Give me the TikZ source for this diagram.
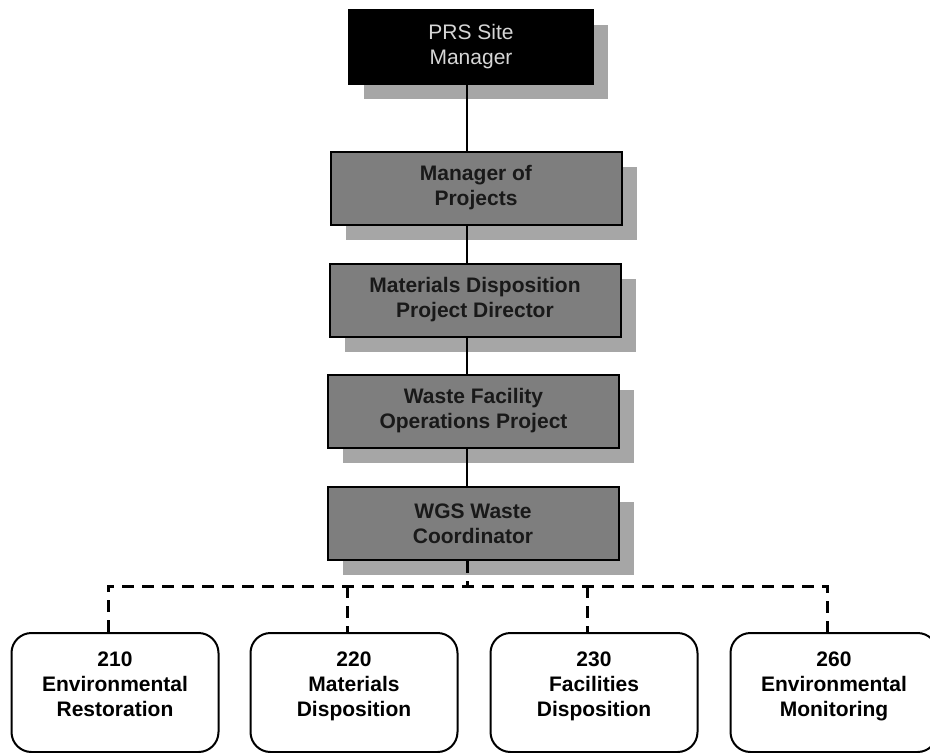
\documentclass[tikz,border=0pt]{standalone}
\usepackage{fontspec}
\setmainfont{Liberation Sans}
\usepackage{xcolor}
\usepackage{tikz}
\usetikzlibrary{positioning,shadows}
\definecolor{boxgray}{HTML}{7E7E7E}
\definecolor{shade}{HTML}{A6A6A6}
\definecolor{toptext}{HTML}{D6D6D6}

\begin{document}
\begin{tikzpicture}[x=1pt, y=-1pt,
  office/.style={draw=black, line width=2pt, fill=boxgray, minimum width=291pt, minimum height=73pt, inner sep=0pt, align=center,
    font=\fontsize{21}{25}\selectfont\bfseries, text=black!90,
    drop shadow={shadow xshift=15pt, shadow yshift=-15pt, fill=shade, opacity=1}},
  unit/.style={draw=black, line width=2pt, rounded corners=20pt, fill=white, minimum width=207pt, minimum height=119pt, inner sep=0pt, align=center,
    text depth=16pt, font=\fontsize{21}{25}\selectfont\bfseries},
  spineline/.style={line width=2.2pt},
  busline/.style={line width=3pt, dash pattern=on 12pt off 8pt}]
\useasboundingbox (0,0) rectangle (930,753);
\node[office, fill=black, text=toptext, font=\fontsize{21}{25}\selectfont, minimum width=244pt, minimum height=74pt] (site) at (471,47) {PRS Site\\ Manager};
\node[office] (mgr) at (476,188) {Manager of\\ Projects};
\node[office] (mdpd) at (475,300) {Materials Disposition\\ Project Director};
\node[office] (wfop) at (473.5,411) {Waste Facility\\ Operations Project};
\node[office] (wgs) at (473,523.5) {WGS Waste\\ Coordinator};
\node[unit] (u210) at (115,692.5) {210\\ Environmental\\ Restoration};
\node[unit] (u220) at (354,692.5) {220\\ Materials\\ Disposition};
\node[unit] (u230) at (594,692.5) {230\\ Facilities\\ Disposition};
\node[unit] (u260) at (834,692.5) {260\\ Environmental\\ Monitoring};
% solid chain of command
\coordinate (spine) at (467,0);
\draw[spineline] (site.south -| spine) -- (mgr.north -| spine);
\draw[spineline] (mgr.south -| spine) -- (mdpd.north -| spine);
\draw[spineline] (mdpd.south -| spine) -- (wfop.north -| spine);
\draw[spineline] (wfop.south -| spine) -- (wgs.north -| spine);
% dashed coordination lines
\coordinate (bus) at (467,586);
\draw[busline] (wgs.south -| spine) -- (bus);
\draw[busline] ([xshift=-7pt]u210.north) -- ([xshift=-7pt]u210.north |- bus) -- ([xshift=-7pt]u260.north |- bus) -- ([xshift=-7pt]u260.north);
\draw[busline] ([xshift=-7pt]u220.north |- bus) -- ([xshift=-7pt]u220.north);
\draw[busline] ([xshift=-7pt]u230.north |- bus) -- ([xshift=-7pt]u230.north);
\end{tikzpicture}
\end{document}
